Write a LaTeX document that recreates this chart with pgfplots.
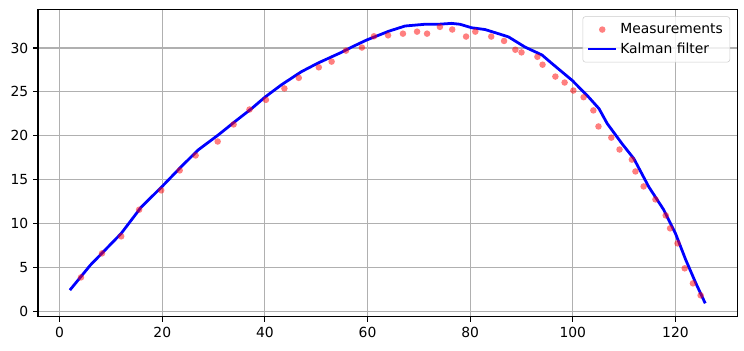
\documentclass[border=0pt]{standalone}
\usepackage{pgfplots}
\pgfplotsset{compat=1.18}
\usepackage{fontspec}
\setmainfont{DejaVu Sans}
\definecolor{gridgray}{HTML}{B0B0B0}
\definecolor{legedge}{HTML}{CCCCCC}
\definecolor{ptred}{HTML}{FF8080}
\begin{document}
\begin{tikzpicture}
\useasboundingbox (0,0) rectangle (535.7pt,252.7pt);
\begin{axis}[
  at={(27.4pt,24.5pt)}, anchor=south west,
  scale only axis, width=503.3pt, height=221.5pt,
  xmin=-4.2, xmax=132, ymin=-0.6, ymax=34.4,
  xtick={0,20,40,60,80,100,120},
  ytick={0,5,10,15,20,25,30},
  grid=major,
  major grid style={gridgray, line width=0.8pt},
  axis line style={line width=0.8pt},
  tick style={black, line width=0.8pt},
  tick align=outside, major tick length=3.5pt,
  tick pos=left,
  /pgf/number format/assume math mode=true,
  ticklabel style={font=\fontsize{10}{12}\selectfont},
  legend style={at={(1,1)}, anchor=north east, xshift=-5pt, yshift=-5pt,
    draw=legedge, rounded corners=2pt, fill=white, fill opacity=0.8, text opacity=1,
    font=\fontsize{10}{12}\selectfont, inner sep=3pt, row sep=1pt},
  legend cell align=left,
]
\addplot[only marks, mark=*, mark size=2.35pt, mark options={draw opacity=0, fill=red, fill opacity=0.5},
  legend image code/.code={\path[draw=none, fill=ptred, fill opacity=1] (10pt,0pt) circle (2.35pt);}] coordinates {
(4.16,3.9) (8.26,6.63) (12.0,8.57) (15.5,11.6) (19.8,13.8) (23.4,16.07) (26.5,17.77) (30.8,19.36) (33.9,21.3) (37.0,23.0)
(40.2,24.1) (43.8,25.4) (46.6,26.6) (50.5,27.8) (53.0,28.45) (55.8,29.7) (58.9,30.05) (61.25,31.33) (64.0,31.44) (66.9,31.63)
(69.65,31.86) (71.6,31.63) (74.1,32.4) (76.5,32.1) (79.2,31.3) (81.0,31.86) (84.1,31.3) (86.6,30.8) (88.8,29.8) (90.0,29.5)
(93.1,29.0) (94.1,28.1) (96.6,26.75) (98.4,26.07) (100.1,25.16) (102.1,24.4) (104.0,22.9) (105.0,21.07) (107.5,19.8) (109.1,18.45)
(111.5,17.3) (112.2,15.95) (113.8,14.25) (116.1,12.77) (118.1,10.95) (118.95,9.48) (120.4,7.77) (121.8,4.93) (123.4,3.22) (124.9,1.86)
};
\addlegendentry{Measurements}
\addplot[blue, line width=2pt, mark=none,
  legend image code/.code={\draw[blue, line width=2pt] (0pt,0pt) -- (20pt,0pt);}] coordinates {
(2.0,2.45) (6.0,5.3) (12.0,8.9) (15.9,11.9) (19.9,14.2) (23.7,16.5) (27.0,18.4) (30.9,20.1) (34.1,21.6) (37.4,23.1)
(40.0,24.4) (43.2,25.8) (47.1,27.3) (50.4,28.3) (54.9,29.5) (56.9,30.1) (59.8,30.9) (64.1,31.9) (67.3,32.5) (71.2,32.7)
(73.8,32.7) (76.4,32.8) (78.0,32.7) (80.3,32.3) (82.9,32.1) (86.2,31.5) (87.5,31.25) (90.7,30.1) (94.0,29.2) (96.0,28.2)
(99.9,26.3) (103.1,24.4) (105.1,23.1) (106.7,21.4) (109.6,19.1) (111.9,17.4) (114.8,14.2) (117.7,11.6) (120.0,8.9) (122.0,5.9)
(124.0,3.2) (125.8,0.95)
};
\addlegendentry{Kalman filter}
\end{axis}
\end{tikzpicture}
\end{document}
